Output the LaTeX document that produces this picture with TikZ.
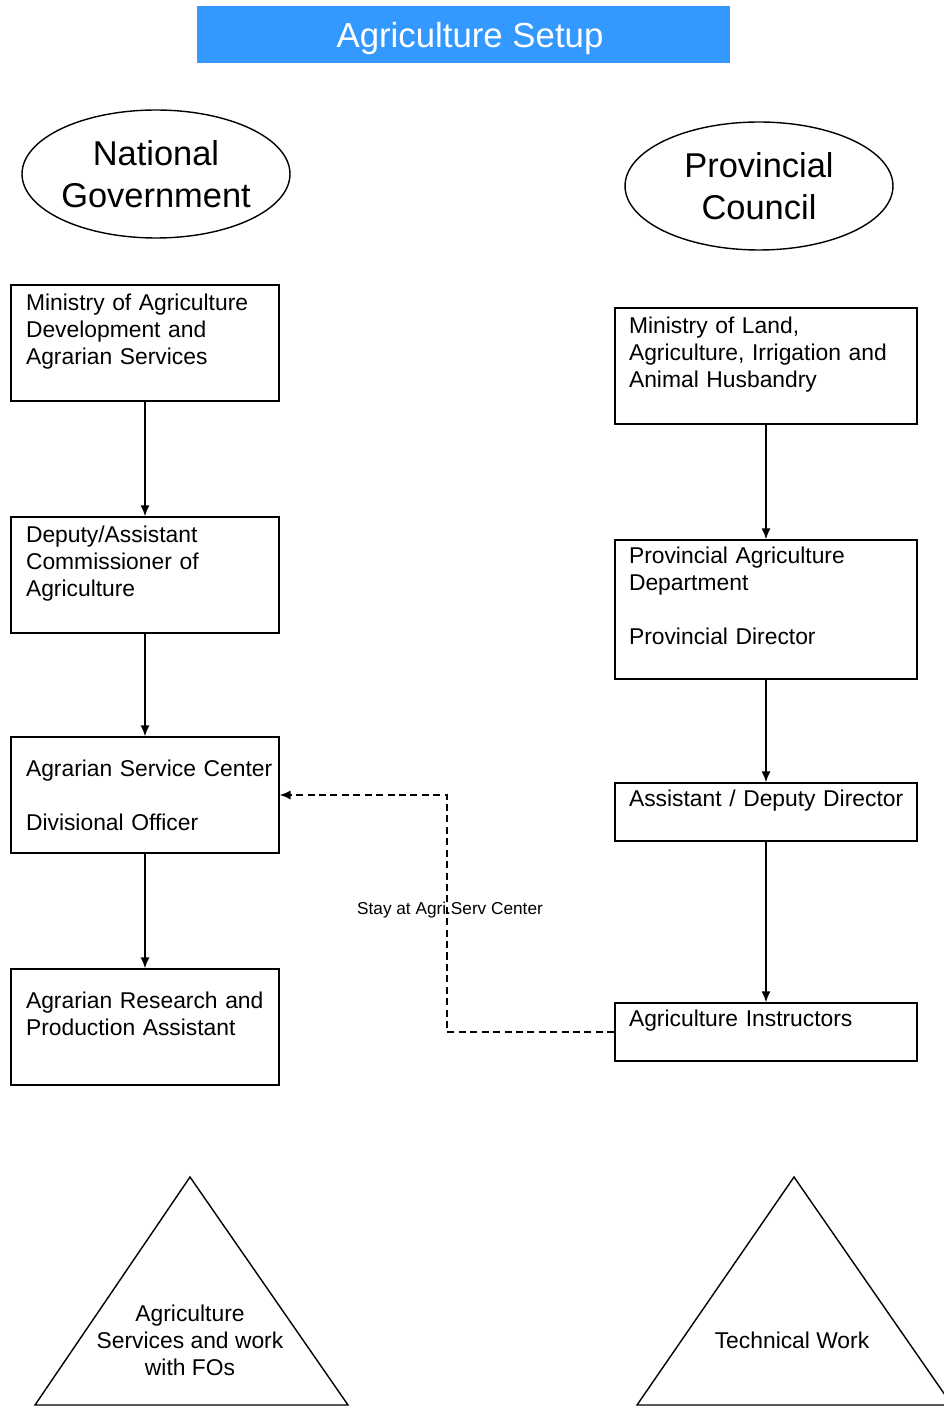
\documentclass[tikz,border=0pt]{standalone}
\usepackage{fontspec}
\setmainfont{Liberation Sans}
\usepackage{xcolor}
\usetikzlibrary{positioning, shapes.geometric, arrows.meta}
\definecolor{azulTitulo}{RGB}{51,153,255}

\begin{document}
\begin{tikzpicture}[
    x=0.02cm, y=-0.02cm,
    % Estilos
    caixa/.style={rectangle, draw=black, line width=0.8pt, fill=white, minimum height=2.32cm, text width=4.76cm, inner xsep=0.3cm, inner ysep=0pt, align=left, font=\fontsize{13}{15.4}\selectfont},
    caixaProv/.style={caixa, text width=5.48cm, inner xsep=0.28cm},
    elipse/.style={ellipse, draw=black, line width=0.8pt, minimum width=5.36cm, minimum height=2.56cm, inner sep=0pt, align=center, font=\fontsize{19.6}{23.8}\selectfont},
    titulo/.style={rectangle, fill=azulTitulo, minimum width=10.66cm, minimum height=1.14cm, text depth=0pt, text=white, font=\fontsize{19.8}{23}\selectfont},
    seta/.style={draw, line width=0.8pt, -{Latex[length=2.2mm, width=1.8mm]}},
    tracejado/.style={draw, line width=0.8pt, dash pattern=on 4pt off 2.5pt, -{Latex[length=2.2mm, width=1.8mm]}},
    triangulo/.style={draw=black, line width=0.8pt, line join=miter}
]

\useasboundingbox (0,0) rectangle (943,1408);

% ==========================
% COLUNAS
% ==========================
\def\XL{145}
\def\XR{766}

% Titulo
\node[titulo] (titulo) at (463.5,34.5) {\hspace{0.26cm}Agriculture Setup};

% Elipses
\node[elipse] (nacional) at (156,174) {National\\Government};
\node[elipse] (provincial) at (759,186) {Provincial\\Council};

% ==========================
% GOVERNO NACIONAL
% ==========================
\node[caixa] (l1) at (\XL,343) {Ministry of Agriculture\\Development and\\Agrarian Services\\\mbox{}};
\node[caixa] (l2) at (\XL,575) {Deputy/Assistant\\Commissioner of\\Agriculture\\\mbox{}};
\node[caixa] (l3) at (\XL,795) {\mbox{Agrarian Service Center}\\\mbox{}\\Divisional Officer};
\node[caixa] (l4) at (\XL,1027) {Agrarian Research and\\Production Assistant\\\mbox{}};

% ==========================
% CONSELHO PROVINCIAL
% ==========================
\node[caixaProv] (r1) at (\XR,366) {Ministry of Land,\\Agriculture, Irrigation and\\Animal Husbandry\\\mbox{}};
\node[caixaProv, minimum height=2.78cm] (r2) at (\XR,609.5) {Provincial Agriculture\\Department\\\mbox{}\\Provincial Director\\\mbox{}};
\node[caixaProv, minimum height=1.16cm] (r3) at (\XR,812) {\mbox{Assistant / Deputy Director}\\\mbox{}};
\node[caixaProv, minimum height=1.16cm] (r4) at (\XR,1032) {Agriculture Instructors\\\mbox{}};

% ==========================
% LIGACOES
% ==========================
\draw[seta] (l1) -- (l2);
\draw[seta] (l2) -- (l3);
\draw[seta] (l3) -- (l4);
\draw[seta] (r1) -- (r2);
\draw[seta] (r2) -- (r3);
\draw[seta] (r3) -- (r4);

\coordinate (dobra) at (447,1032);
\draw[tracejado] (r4.west) -- (dobra) |- (l3.east);
\node[font=\fontsize{9.8}{12}\selectfont] (rotulo) at (450,910) {Stay at Agri.Serv Center};

% ==========================
% TRIANGULOS
% ==========================
\draw[triangulo] (190,1177) -- (348,1405) -- (35,1405) -- cycle;
\draw[triangulo] (794,1177) -- (952,1405) -- (637,1405) -- cycle;
\node[align=center, font=\fontsize{13}{15.4}\selectfont] (servicos) at (190,1340) {Agriculture\\Services and work\\with FOs};
\node[align=center, font=\fontsize{13}{15.4}\selectfont] (tecnico) at (792,1340) {Technical Work};

\end{tikzpicture}
\end{document}
